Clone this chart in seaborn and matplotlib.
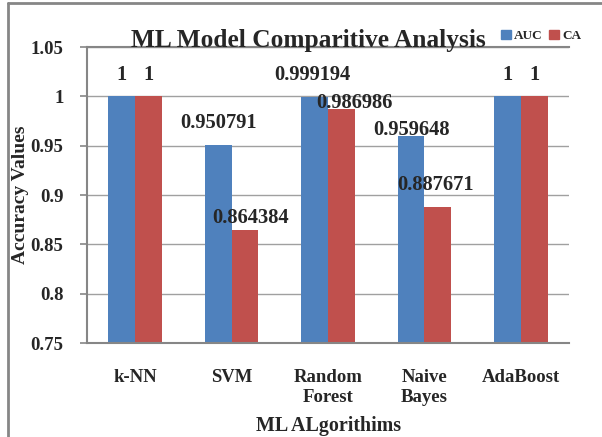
import matplotlib
matplotlib.use("Agg")
import matplotlib.pyplot as plt
import seaborn as sns
import pandas as pd
from matplotlib.lines import Line2D

categories = ["k-NN", "SVM", "Random\nForest", "Naive\nBayes", "AdaBoost"]
auc = [1.0, 0.950791, 0.999194, 0.959648, 1.0]
ca = [1.0, 0.864384, 0.986986, 0.887671, 1.0]
auc_labels = ["1", "0.950791", "0.999194", "0.959648", "1"]
ca_labels = ["1", "0.864384", "0.986986", "0.887671", "1"]
yticks = [0.75, 0.8, 0.85, 0.9, 0.95, 1.0, 1.05]
ytick_labels = ["0.75", "0.8", "0.85", "0.9", "0.95", "1", "1.05"]

# label placement (pixel offsets of label centre from bar top centre)
auc_label_offsets = [(0, 21), (0, 22), (-2, 22), (0, 6), (0, 21)]
ca_label_offsets = [(0, 21), (6, 12), (13, 6.5), (-2, 22), (0, 21)]

df = pd.DataFrame({
    "Algorithm": categories * 2,
    "Metric": ["AUC"] * len(categories) + ["CA"] * len(categories),
    "Value": auc + ca,
})

sns.set_theme(style="white")
plt.rcParams["font.family"] = ["Liberation Serif", "DejaVu Serif"]
plt.rcParams["font.weight"] = "bold"

fig = plt.figure(figsize=(6.02, 4.37), dpi=100)
ax = fig.add_axes([87 / 602, 1 - 343 / 437, (569 - 87) / 602, (343 - 47) / 437])

palette = {"AUC": "#4F81BD", "CA": "#C0504D"}
sns.barplot(data=df, x="Algorithm", y="Value", hue="Metric", palette=palette,
            ax=ax, width=0.555, saturation=1, legend=False, linewidth=0, zorder=2)

ax.set_ylim(0.75, 1.05)
ax.set_yticks(yticks)
ax.set_yticklabels(ytick_labels, fontsize=13.5, fontweight="bold")
ax.set_xticks(range(len(categories)))
ax.set_xticklabels(categories, fontsize=13.5, fontweight="bold", linespacing=1.2)
ax.tick_params(axis="y", length=5, width=1.2, color="#868686", pad=12, left=True)
ax.tick_params(axis="x", length=0, pad=19)
ax.set_xlim(-0.5, len(categories) - 0.5)
ax.set_axisbelow(True)
ax.yaxis.grid(True, color="#a0a0a0", linewidth=1.0)

for side in ["left", "bottom", "top"]:
    ax.spines[side].set_color("#868686")
    ax.spines[side].set_linewidth(1.5)
ax.spines["right"].set_visible(False)

ax.set_ylabel("Accuracy Values", fontsize=14, fontweight="bold")
ax.yaxis.label.set_verticalalignment("center")
ax.yaxis.set_label_coords((21 - 87) / 482, 0.5)
ax.set_xlabel("ML ALgorithims", fontsize=14.4, fontweight="bold")
ax.xaxis.label.set_verticalalignment("center")
ax.xaxis.set_label_coords((329 - 87) / 482, (343 - 426) / 296)

# value labels
for container, labels, offsets in zip(ax.containers, [auc_labels, ca_labels],
                                      [auc_label_offsets, ca_label_offsets]):
    for bar, lab, (dx, dy) in zip(container, labels, offsets):
        ax.annotate(lab, xy=(bar.get_x() + bar.get_width() / 2, bar.get_height()),
                    xytext=(dx, dy), textcoords="offset pixels", ha="center", va="center",
                    fontsize=14.8, fontweight="bold", zorder=5)

fig.text(0.513, 1 - 40 / 437, "ML Model Comparitive Analysis", ha="center", va="center",
         fontsize=18.3, fontweight="bold")

# legend
handles = [plt.Rectangle((0, 0), 1, 1, color=palette[k]) for k in ["AUC", "CA"]]
fig.legend(handles, ["AUC", "CA"], loc="center left", bbox_to_anchor=(489 / 602, 1 - 36 / 437),
           ncol=2, frameon=False, handlelength=0.75, handleheight=0.75,
           handletextpad=0.25, columnspacing=0.5, prop={"weight": "bold", "size": 9.5})

# outer frame remnants
fig.add_artist(Line2D([8 / 602, 8 / 602], [0, 1 - 3 / 437], transform=fig.transFigure,
                      color="#868686", linewidth=2))
fig.add_artist(Line2D([8 / 602, 1], [1 - 3 / 437, 1 - 3 / 437], transform=fig.transFigure,
                      color="#868686", linewidth=2))

fig.savefig("out.png", dpi=100)
